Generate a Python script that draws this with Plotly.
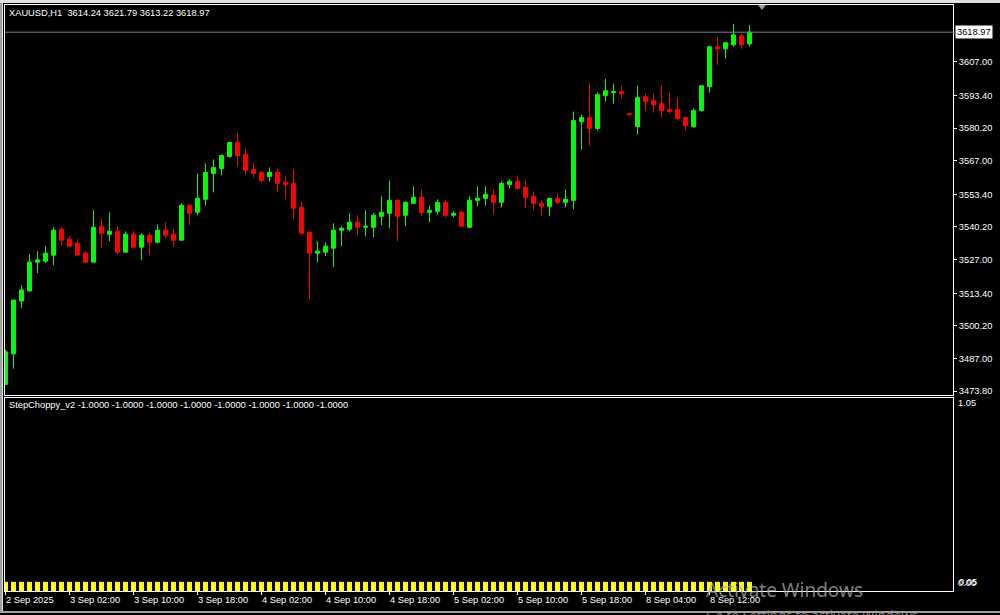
import plotly.graph_objects as go

W, H = 1000, 615

# ---------------- data ----------------
bar_index = list(range(94))

open_ = [
    3476.53, 3488.90, 3510.27, 3514.30, 3525.99, 3526.39, 3528.81, 3539.29, 3535.26, 3533.64,
    3529.61, 3525.99, 3540.50, 3537.27, 3538.48, 3530.02, 3537.27, 3532.03, 3536.87, 3534.05,
    3538.88, 3537.27, 3534.85, 3548.96, 3546.14, 3551.38, 3561.86, 3563.87, 3568.71, 3574.35,
    3569.52, 3563.47, 3562.26, 3560.65, 3562.26, 3558.23, 3557.83, 3548.15, 3538.08, 3529.61,
    3530.02, 3531.63, 3538.88, 3539.29, 3542.11, 3540.09, 3540.09, 3544.53, 3545.74, 3550.98,
    3544.93, 3549.77, 3552.18, 3546.14, 3546.54, 3550.17, 3544.93, 3546.14, 3540.09, 3550.98,
    3551.78, 3552.99, 3550.17, 3557.42, 3558.63, 3556.22, 3552.59, 3549.77, 3548.56, 3551.78,
    3550.17, 3550.98, 3582.82, 3584.43, 3580.00, 3593.30, 3594.51, 3594.91, 3586.04, 3580.80,
    3592.89, 3591.28, 3590.07, 3587.65, 3587.65, 3584.43, 3580.80, 3587.25, 3596.92, 3613.05,
    3612.24, 3613.85, 3617.48, 3614.24,
]
high = [
    3490.52, 3510.67, 3516.72, 3529.21, 3530.42, 3532.43, 3540.09, 3540.09, 3536.47, 3535.26,
    3530.42, 3546.94, 3543.32, 3546.14, 3540.50, 3538.48, 3538.48, 3537.67, 3537.67, 3541.30,
    3542.11, 3539.29, 3549.77, 3549.36, 3561.86, 3565.89, 3567.50, 3569.52, 3574.35, 3578.38,
    3571.93, 3566.29, 3562.66, 3564.28, 3563.87, 3561.05, 3563.47, 3550.57, 3538.48, 3534.45,
    3534.05, 3541.71, 3540.50, 3545.74, 3544.93, 3546.94, 3545.74, 3552.59, 3559.04, 3551.38,
    3550.57, 3556.62, 3555.41, 3548.96, 3551.38, 3550.98, 3546.54, 3546.94, 3552.59, 3556.62,
    3556.62, 3555.41, 3558.63, 3559.44, 3561.05, 3559.04, 3554.60, 3550.98, 3551.78, 3553.80,
    3555.41, 3586.85, 3585.64, 3598.13, 3594.51, 3600.15, 3598.13, 3597.33, 3586.04, 3597.33,
    3594.10, 3594.10, 3597.33, 3594.51, 3592.49, 3584.83, 3588.06, 3597.33, 3613.45, 3617.08,
    3615.06, 3622.32, 3618.29, 3621.79,
]
low = [
    3476.41, 3482.86, 3507.44, 3514.30, 3521.55, 3525.58, 3524.78, 3532.84, 3532.43, 3528.81,
    3525.99, 3525.99, 3531.63, 3534.45, 3529.21, 3530.02, 3531.63, 3526.79, 3528.81, 3533.64,
    3535.66, 3532.03, 3534.85, 3540.90, 3544.93, 3548.96, 3554.20, 3561.05, 3568.31, 3564.68,
    3561.45, 3560.25, 3558.23, 3558.63, 3554.20, 3551.38, 3543.32, 3537.27, 3511.07, 3525.99,
    3528.40, 3523.97, 3532.43, 3538.48, 3536.87, 3536.47, 3536.06, 3540.90, 3539.69, 3534.45,
    3540.50, 3549.77, 3544.53, 3542.11, 3545.33, 3544.12, 3544.12, 3540.09, 3539.69, 3548.56,
    3548.96, 3545.33, 3548.15, 3555.81, 3555.41, 3547.75, 3546.94, 3544.53, 3544.53, 3549.36,
    3548.15, 3547.35, 3571.53, 3573.14, 3579.19, 3590.88, 3590.07, 3592.09, 3585.64, 3577.58,
    3587.25, 3586.44, 3584.43, 3586.04, 3583.62, 3579.19, 3580.40, 3586.85, 3594.51, 3605.79,
    3608.21, 3613.05, 3612.24, 3613.22,
]
close = [
    3489.71, 3510.67, 3514.70, 3525.99, 3526.91, 3529.61, 3538.88, 3534.85, 3532.43, 3528.81,
    3525.99, 3540.09, 3537.67, 3538.48, 3530.02, 3537.27, 3532.03, 3536.87, 3534.05, 3538.88,
    3536.87, 3534.85, 3548.96, 3545.74, 3551.78, 3562.26, 3564.28, 3569.11, 3574.35, 3569.11,
    3563.07, 3561.86, 3559.04, 3562.26, 3557.83, 3557.42, 3547.75, 3537.67, 3529.61, 3530.42,
    3532.43, 3538.88, 3539.69, 3542.11, 3540.09, 3540.50, 3544.93, 3546.14, 3550.98, 3544.53,
    3550.17, 3552.18, 3546.14, 3546.94, 3550.17, 3544.93, 3545.74, 3540.50, 3550.98, 3551.78,
    3553.39, 3550.17, 3557.83, 3558.63, 3555.81, 3552.18, 3549.77, 3548.56, 3551.78, 3550.17,
    3551.38, 3583.22, 3584.43, 3580.00, 3593.70, 3595.31, 3594.91, 3594.10, 3585.64, 3592.49,
    3590.88, 3589.67, 3587.25, 3586.85, 3584.03, 3581.20, 3587.25, 3597.33, 3613.05, 3612.24,
    3614.66, 3617.88, 3613.85, 3618.97,
]

# StepChoppy_v2 histogram (all bars equal height)
choppy_hist = [
    0.05, 0.05, 0.05, 0.05, 0.05, 0.05, 0.05, 0.05, 0.05, 0.05,
    0.05, 0.05, 0.05, 0.05, 0.05, 0.05, 0.05, 0.05, 0.05, 0.05,
    0.05, 0.05, 0.05, 0.05, 0.05, 0.05, 0.05, 0.05, 0.05, 0.05,
    0.05, 0.05, 0.05, 0.05, 0.05, 0.05, 0.05, 0.05, 0.05, 0.05,
    0.05, 0.05, 0.05, 0.05, 0.05, 0.05, 0.05, 0.05, 0.05, 0.05,
    0.05, 0.05, 0.05, 0.05, 0.05, 0.05, 0.05, 0.05, 0.05, 0.05,
    0.05, 0.05, 0.05, 0.05, 0.05, 0.05, 0.05, 0.05, 0.05, 0.05,
    0.05, 0.05, 0.05, 0.05, 0.05, 0.05, 0.05, 0.05, 0.05, 0.05,
    0.05, 0.05, 0.05, 0.05, 0.05, 0.05, 0.05, 0.05, 0.05, 0.05,
    0.05, 0.05, 0.05, 0.05,
]

time_tick_bars = [0, 8, 16, 24, 32, 40, 48, 56, 64, 72, 80, 88]
time_tick_labels = ["2 Sep 2025", "3 Sep 02:00", "3 Sep 10:00", "3 Sep 18:00",
                    "4 Sep 02:00", "4 Sep 10:00", "4 Sep 18:00", "5 Sep 02:00",
                    "5 Sep 10:00", "5 Sep 18:00", "8 Sep 04:00", "8 Sep 12:00"]
price_tick_values = [3607.00, 3593.40, 3580.20, 3567.00, 3553.40, 3540.20,
                     3527.00, 3513.40, 3500.20, 3487.00, 3473.80]
last_price = 3618.97
symbol = "XAUUSD,H1"
ind_name = "StepChoppy_v2"
ind_values = [-1.0, -1.0, -1.0, -1.0, -1.0, -1.0, -1.0, -1.0]

# ---------------- layout helpers (pixel -> paper) ----------------
def fx(px):
    return px / W

def fy(py):
    return 1 - py / H

FONT = "Tahoma, 'Liberation Sans', Arial, sans-serif"
FS = 9.3
WHITE = "#ffffff"

fig = go.Figure()

fig.add_trace(go.Candlestick(
    x=bar_index, open=open_, high=high, low=low, close=close,
    increasing=dict(line=dict(color="#00ff00", width=1), fillcolor="#00ff00"),
    decreasing=dict(line=dict(color="#ff0000", width=1), fillcolor="#ff0000"),
    whiskerwidth=0, xaxis="x", yaxis="y", hoverinfo="skip",
))

fig.add_trace(go.Bar(
    x=bar_index, y=choppy_hist, width=0.62,
    marker=dict(color="#ffff00", line=dict(width=0)),
    xaxis="x2", yaxis="y2", hoverinfo="skip",
))

xrange = [-0.0625, 118.4375]
axis_common = dict(showgrid=False, zeroline=False, showline=True, linecolor=WHITE,
                   linewidth=1, mirror=True)

fig.update_layout(
    width=W, height=H,
    margin=dict(l=0, r=0, t=0, b=0),
    paper_bgcolor="#000000", plot_bgcolor="#000000",
    showlegend=False, boxgap=0.3, boxgroupgap=0.3,
    xaxis=dict(domain=[fx(5), fx(953)], range=xrange, anchor="y",
               showticklabels=False, ticks="", rangeslider=dict(visible=False),
               **axis_common),
    yaxis=dict(domain=[fy(396), fy(5)], range=[3472.38, 3629.97], anchor="x",
               side="right", tickvals=price_tick_values,
               ticktext=[f"{v:.2f}" for v in price_tick_values],
               ticks="outside", ticklen=3, tickcolor=WHITE,
               tickfont=dict(family=FONT, size=FS, color=WHITE),
               **axis_common),
    xaxis2=dict(domain=[fx(5), fx(953)], range=xrange, anchor="y2",
                tickvals=time_tick_bars, ticktext=["" for _ in time_tick_bars],
                ticks="outside", ticklen=3, tickcolor=WHITE,
                **axis_common),
    yaxis2=dict(domain=[fy(593), fy(399)], range=[0, 1.05], anchor="x2",
                side="right", showticklabels=False, ticks="",
                **axis_common),
)

shapes = []
# last-price (bid) line
shapes.append(dict(type="line", xref="paper", yref="y", x0=fx(5), x1=fx(955),
                   y0=last_price, y1=last_price, line=dict(color="#778899", width=1)))
# window frame
shapes.append(dict(type="rect", xref="paper", yref="paper", x0=0, x1=fx(3),
                   y0=0, y1=1, fillcolor="#a0a0a0", line=dict(width=0), layer="above"))
shapes.append(dict(type="rect", xref="paper", yref="paper", x0=fx(2), x1=fx(3),
                   y0=0, y1=1, fillcolor="#e0e0e0", line=dict(width=0), layer="above"))
shapes.append(dict(type="rect", xref="paper", yref="paper", x0=0, x1=1,
                   y0=fy(3), y1=1, fillcolor="#e0e0e0", line=dict(width=0), layer="above"))
shapes.append(dict(type="rect", xref="paper", yref="paper", x0=0, x1=1,
                   y0=0, y1=fy(613), fillcolor="#a0a0a0", line=dict(width=0), layer="above"))
# chart-shift marker
shapes.append(dict(type="path", xref="paper", yref="paper",
                   path=f"M {fx(758)} {fy(5)} L {fx(766)} {fy(5)} L {fx(762)} {fy(10)} Z",
                   fillcolor="#a0a0a0", line=dict(width=0), layer="above"))
fig.update_layout(shapes=shapes)

ann = []
nb = "\u00a0"
ann.append(dict(xref="paper", yref="paper", x=fx(7), y=fy(13), xanchor="left", yanchor="middle",
                text=f"{symbol}{nb}{nb}" + " ".join(f"{v:.2f}" for v in (open_[-1], high[-1], low[-1], close[-1])),
                showarrow=False, font=dict(family=FONT, size=FS, color=WHITE)))
ann.append(dict(xref="paper", yref="paper", x=fx(7), y=fy(406.5), xanchor="left", yanchor="middle",
                text=ind_name + " " + " ".join(f"{v:.4f}" for v in ind_values),
                showarrow=False, font=dict(family=FONT, size=FS, color=WHITE)))
# last price label box
ann.append(dict(xref="paper", yref="y", x=fx(955), y=last_price, xanchor="left", yanchor="middle",
                text=f"{last_price:.2f}", showarrow=False, bgcolor="#ffffff", borderpad=1,
                font=dict(family=FONT, size=FS, color="#000000")))
# indicator scale labels
ann.append(dict(xref="paper", yref="paper", x=fx(956), y=fy(404), xanchor="left", yanchor="middle",
                text="1.05", showarrow=False, font=dict(family=FONT, size=FS, color=WHITE)))
ann.append(dict(xref="paper", yref="paper", x=fx(956), y=fy(585), xanchor="left", yanchor="middle",
                text="0.00", showarrow=False, font=dict(family=FONT, size=FS, color=WHITE)))
ann.append(dict(xref="paper", yref="paper", x=fx(957), y=fy(583.5), xanchor="left", yanchor="middle",
                text="0.05", showarrow=False, font=dict(family=FONT, size=FS, color=WHITE)))
# time labels
for b, lab in zip(time_tick_bars, time_tick_labels):
    ann.append(dict(xref="x2", yref="paper", x=b, y=fy(602), xanchor="left", yanchor="middle",
                    xshift=-2, text=lab, showarrow=False,
                    font=dict(family=FONT, size=FS, color=WHITE)))
# OS watermark visible in the reference screenshot
ann.append(dict(xref="paper", yref="paper", x=fx(704), y=fy(592), xanchor="left", yanchor="middle",
                text="Activate Windows", showarrow=False,
                font=dict(family="'Noto Sans', 'Open Sans', sans-serif", size=19, color="rgba(170,170,170,0.75)")))
ann.append(dict(xref="paper", yref="paper", x=fx(704), y=fy(617), xanchor="left", yanchor="middle",
                text="Go to Settings to activate Windows.", showarrow=False,
                font=dict(family="'Noto Sans', 'Open Sans', sans-serif", size=13, color="rgba(170,170,170,0.75)")))
fig.update_layout(annotations=ann)

fig.write_html(
    "out.html",
    config={"displayModeBar": False},
    post_script="document.body.style.margin='0';document.body.style.overflow='hidden';",
)
